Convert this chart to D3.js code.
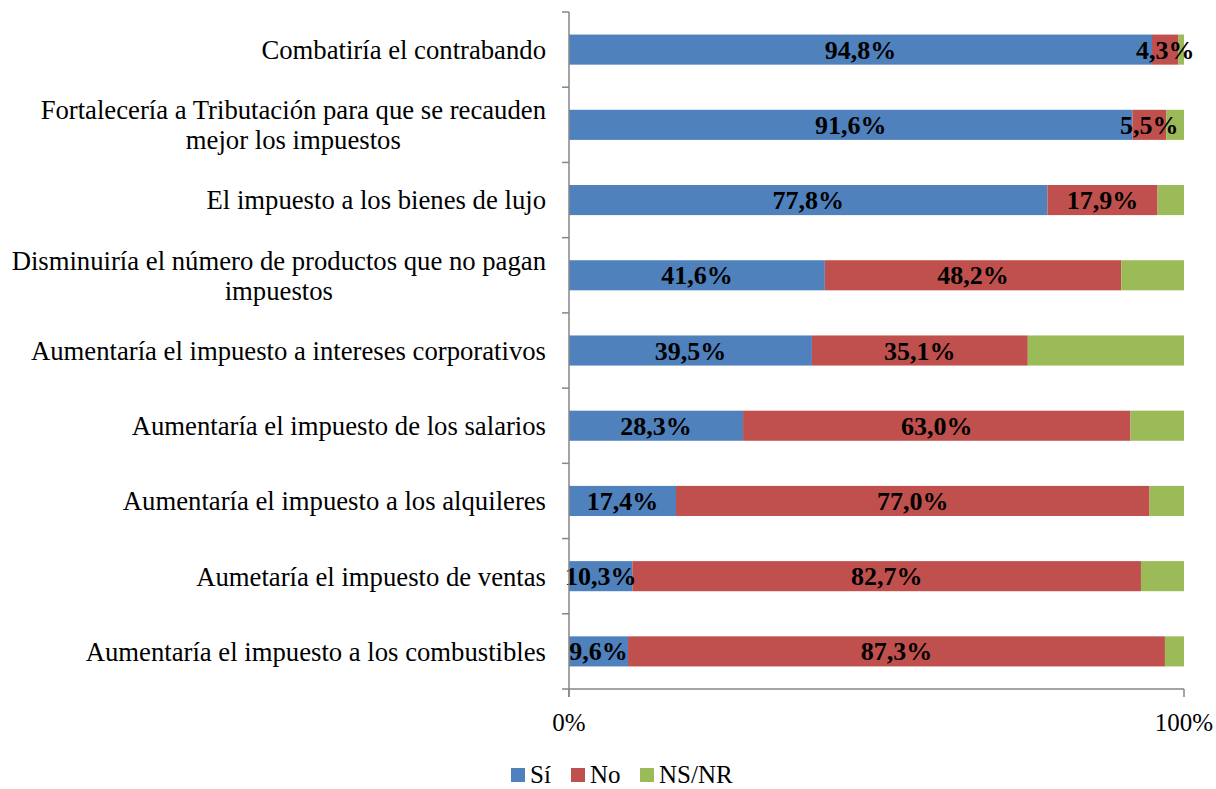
<!DOCTYPE html>
<html>
<head>
<meta charset="utf-8">
<script src="https://cdn.jsdelivr.net/npm/d3@7"></script>
<style>
  body { margin: 0; background: #fff; }
  svg { display: block; }
  text { font-family: "Liberation Serif", "Times New Roman", serif; }
</style>
</head>
<body>
<div class="board"></div>
<script>
var WIDTH = 1216;
var HEIGHT = 789;

var categories = [
  ['Combatiría el contrabando'],
  ['Fortalecería a Tributación para que se recauden', 'mejor los impuestos'],
  ['El impuesto a los bienes de lujo'],
  ['Disminuiría el número de productos que no pagan', 'impuestos'],
  ['Aumentaría el impuesto a intereses corporativos'],
  ['Aumentaría el impuesto de los salarios'],
  ['Aumentaría el impuesto a los alquileres'],
  ['Aumetaría el impuesto de ventas'],
  ['Aumentaría el impuesto a los combustibles']
];
var si = [94.8, 91.6, 77.8, 41.6, 39.5, 28.3, 17.4, 10.3, 9.6];
var no = [4.3, 5.5, 17.9, 48.2, 35.1, 63.0, 77.0, 82.7, 87.3];
var nsnr = [0.9, 2.9, 4.3, 10.2, 25.4, 8.7, 5.6, 7.0, 3.1];
var seriesNames = ['Sí', 'No', 'NS/NR'];
var colors = ['#4f81bd', '#c0504d', '#9bbb59'];
var xTicks = [0, 100];
var xTickLabels = ['0%', '100%'];

var plotLeft = 569, plotRight = 1184, plotTop = 12, plotBottom = 689;

var svg = d3.select('.board')
  .append('svg')
  .attr('width', WIDTH)
  .attr('height', HEIGHT);

var x = d3.scaleLinear().domain([0, 100]).range([plotLeft, plotRight]);
var y = d3.scaleBand()
  .domain(d3.range(categories.length))
  .range([plotTop, plotBottom])
  .paddingInner(0.6)
  .paddingOuter(0.3);

var fmt = function(v) { return v.toFixed(1).replace('.', ',') + '%'; };

var rows = categories.map(function(c, i) {
  var vals = [si[i], no[i], nsnr[i]];
  var acc = 0;
  return vals.map(function(v, k) {
    var seg = { row: i, k: k, x0: acc, x1: acc + v, v: v };
    acc += v;
    return seg;
  });
});
var segs = [].concat.apply([], rows);

svg.selectAll('rect.bar')
  .data(segs)
  .enter()
  .append('rect')
  .attr('class', 'bar')
  .attr('x', function(d) { return x(d.x0); })
  .attr('y', function(d) { return y(d.row); })
  .attr('width', function(d) { return x(d.x1) - x(d.x0); })
  .attr('height', y.bandwidth())
  .attr('fill', function(d) { return colors[d.k]; });

// value labels (Sí and No only)
svg.selectAll('text.val')
  .data(segs.filter(function(d) { return d.k < 2; }))
  .enter()
  .append('text')
  .attr('class', 'val')
  .attr('x', function(d) { return (x(d.x0) + x(d.x1)) / 2; })
  .attr('y', function(d) { return y(d.row) + y.bandwidth() / 2; })
  .attr('dy', '0.35em')
  .attr('text-anchor', 'middle')
  .style('font-size', '26px')
  .style('font-weight', 'bold')
  .attr('fill', '#000')
  .text(function(d) { return fmt(d.v); });

// axes
var axisColor = '#868686';
var step = y.step();
var yAxis = svg.append('g');
yAxis.append('line')
  .attr('x1', plotLeft).attr('x2', plotLeft)
  .attr('y1', plotTop).attr('y2', plotBottom + 8)
  .attr('stroke', axisColor).attr('stroke-width', 1.5);
yAxis.selectAll('line.tick')
  .data(d3.range(categories.length + 1))
  .enter()
  .append('line')
  .attr('class', 'tick')
  .attr('x1', plotLeft - 7).attr('x2', plotLeft)
  .attr('y1', function(i) { return plotTop + i * step; })
  .attr('y2', function(i) { return plotTop + i * step; })
  .attr('stroke', axisColor).attr('stroke-width', 1.5);

var xAxis = svg.append('g');
xAxis.append('line')
  .attr('x1', plotLeft).attr('x2', plotRight)
  .attr('y1', plotBottom).attr('y2', plotBottom)
  .attr('stroke', axisColor).attr('stroke-width', 1.5);
xAxis.selectAll('line.tick')
  .data(xTicks)
  .enter()
  .append('line')
  .attr('class', 'tick')
  .attr('x1', function(d) { return x(d); })
  .attr('x2', function(d) { return x(d); })
  .attr('y1', plotBottom).attr('y2', plotBottom + 8)
  .attr('stroke', axisColor).attr('stroke-width', 1.5);
xAxis.selectAll('text')
  .data(xTicks)
  .enter()
  .append('text')
  .attr('x', function(d) { return x(d); })
  .attr('y', 731)
  .attr('text-anchor', 'middle')
  .style('font-size', '25px')
  .text(function(d, i) { return xTickLabels[i]; });

// category labels
var lineH = 30;
var catG = svg.selectAll('g.cat')
  .data(categories)
  .enter()
  .append('g')
  .attr('class', 'cat');
catG.each(function(lines, i) {
  var g = d3.select(this);
  var cy = y(i) + y.bandwidth() / 2;
  var t = g.append('text')
    .attr('text-anchor', 'middle')
    .style('font-size', '26.7px')
    .attr('fill', '#000');
  lines.forEach(function(s, j) {
    t.append('tspan')
      .attr('x', 0)
      .attr('y', cy + (j - (lines.length - 1) / 2) * lineH)
      .attr('dy', '0.35em')
      .text(s);
  });
  var w = t.node().getBBox().width;
  t.attr('transform', 'translate(' + (546 - w / 2) + ',0)');
});

// legend
var legendX = [511, 571, 640];
var lg = svg.selectAll('g.legend')
  .data(seriesNames)
  .enter()
  .append('g')
  .attr('class', 'legend')
  .attr('transform', function(d, i) { return 'translate(' + legendX[i] + ',768)'; });
lg.append('rect')
  .attr('width', 14).attr('height', 14)
  .attr('fill', function(d, i) { return colors[i]; });
lg.append('text')
  .attr('x', 19).attr('y', 6)
  .attr('dy', '0.35em')
  .style('font-size', '25px')
  .text(function(d) { return d; });
</script>
</body>
</html>
